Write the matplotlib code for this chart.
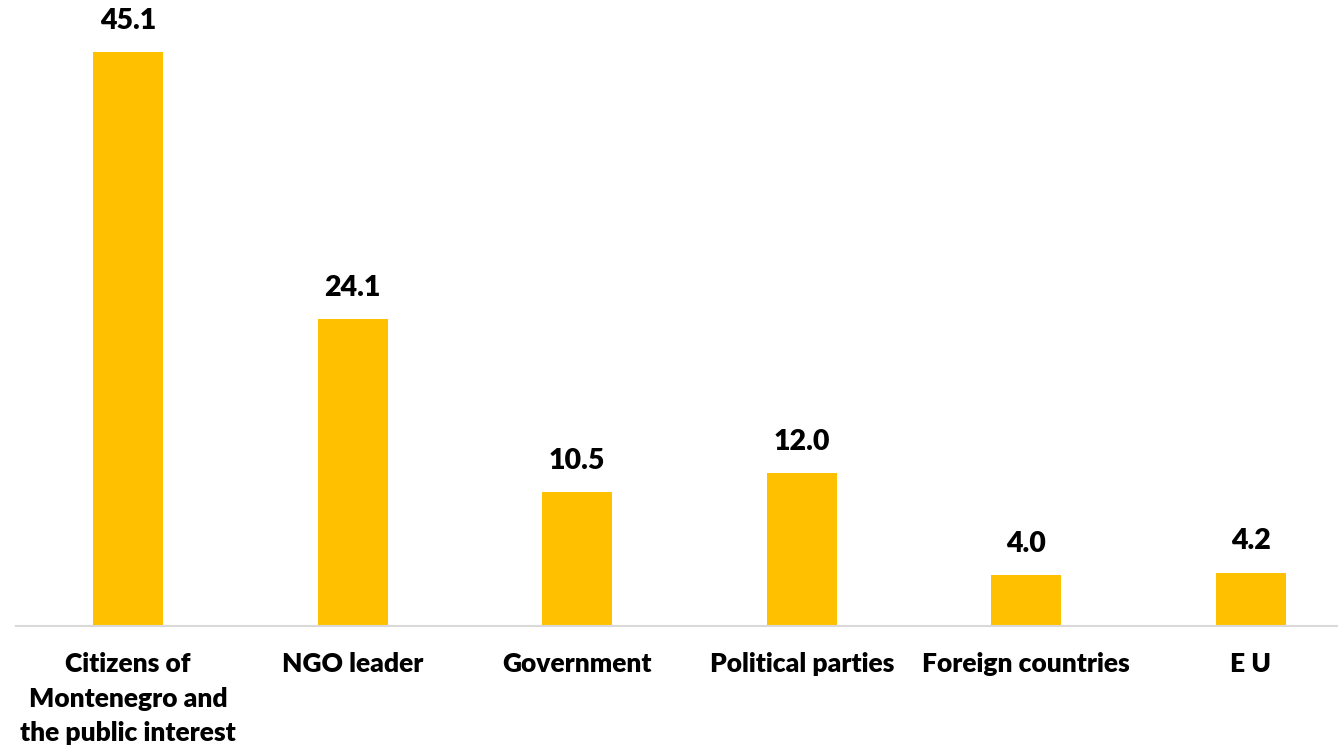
import matplotlib
matplotlib.use("Agg")
import matplotlib.pyplot as plt

plt.rcParams['font.family'] = ['Lato', 'DejaVu Sans']

categories = [
    "Citizens of\nMontenegro and\nthe public interest",
    "NGO leader",
    "Government",
    "Political parties",
    "Foreign countries",
    "E U",
]
values = [45.1, 24.1, 10.5, 12.0, 4.0, 4.2]

W, H = 1338, 749
fig = plt.figure(figsize=(W / 100, H / 100), dpi=100)

# axes: left edge of the category band at 16 px, 224.5 px per category,
# baseline at y=626 px; the last band runs past the right edge of the figure
left_px, step_px, base_px = 16, 224.5, 626
ymax = 48.0
px_per_unit = (626 - 52) / 45.1
ax_h_px = ymax * px_per_unit
ax = fig.add_axes([left_px / W, (H - base_px) / H,
                   step_px * len(categories) / W, ax_h_px / H])

x = range(len(categories))
bars = ax.bar(x, values, width=70 / step_px, color="#FFC000", zorder=2)

ax.set_xlim(-0.5, len(categories) - 0.5)
ax.set_ylim(0, ymax)

for b, v in zip(bars, values):
    ax.annotate(f"{v:.1f}", (b.get_x() + b.get_width() / 2, v),
                xytext=(0, 13), textcoords="offset points",
                ha="center", va="bottom", fontsize=20.5, fontweight="heavy",
                color="#000000")

ax.set_xticks(list(x))
ax.set_xticklabels(categories, fontsize=19, fontweight="heavy",
                   linespacing=1.52, color="#000000")
ax.tick_params(axis="x", length=0, pad=19)
ax.set_yticks([])

for s in ("top", "right", "left"):
    ax.spines[s].set_visible(False)
ax.spines["bottom"].set_color("#D9D9D9")
ax.spines["bottom"].set_linewidth(1.5)

fig.savefig("out.png", dpi=100)
